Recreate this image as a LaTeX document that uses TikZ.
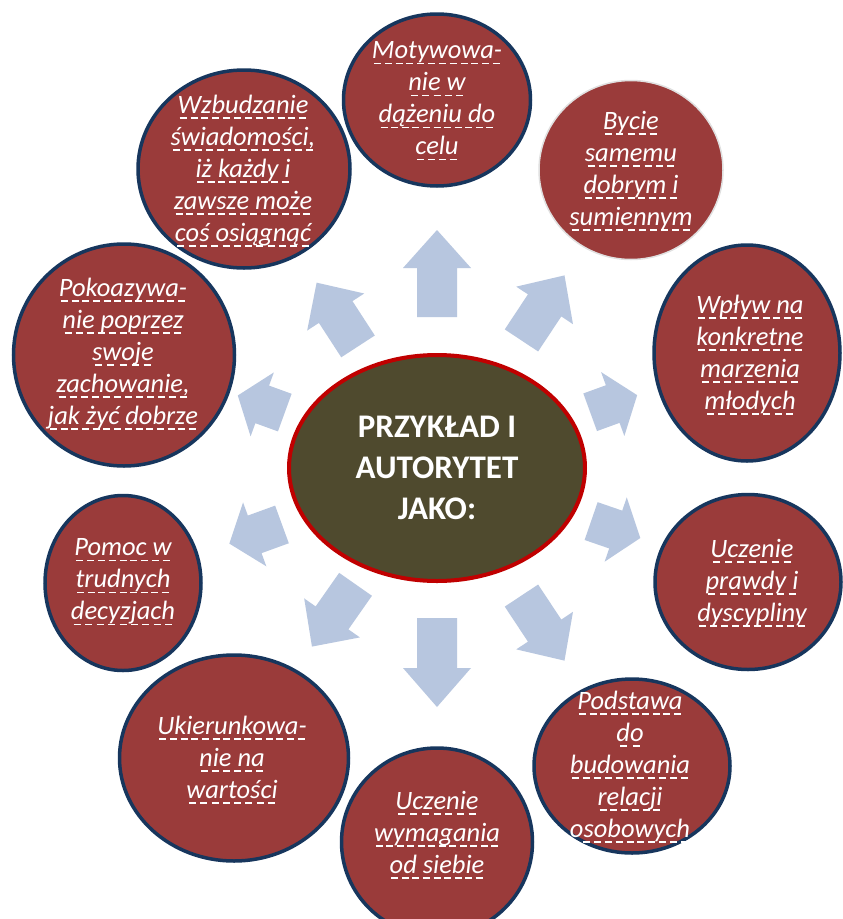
\documentclass[tikz,border=0pt]{standalone}
\usepackage{fontspec}
\setmainfont{Carlito}
\usetikzlibrary{shapes.geometric}
\definecolor{cfill}{HTML}{9A3B3A}
\definecolor{cline}{HTML}{17365D}
\definecolor{efill}{HTML}{4F4A2E}
\definecolor{eline}{HTML}{C00000}
\definecolor{arrc}{HTML}{B7C6DF}
\newcommand\dl[1]{\leavevmode\setbox0=\hbox{#1}\rlap{\raisebox{-5.5pt}{\hbox to \wd0{\xleaders\hbox to 10.5pt{\hss\rule{7pt}{1.5pt}\hss}\hfill}}}\box0}
\newcommand\barrow[4]{%
  \begin{scope}[shift={(437,468)},rotate=#1]
    \fill[arrc] (#2,-20) -- ({#2+#3-#4},-20) -- ({#2+#3-#4},-34) -- ({#2+#3},0)
      -- ({#2+#3-#4},34) -- ({#2+#3-#4},20) -- (#2,20) -- cycle;
  \end{scope}}
\tikzset{
  bub/.style={ellipse, fill=cfill, draw=cline, line width=3.5pt, inner sep=0pt},
  btxt/.style={text=white, align=center, inner sep=0pt,
    font=\fontsize{26.5}{32}\selectfont\itshape},
}
\begin{document}
\begin{tikzpicture}[x=1pt,y=-1pt]
\fill[white] (0,0) rectangle (843,919);
\clip (0,0) rectangle (843,919);

% bubbles
\node[bub, minimum width=187pt, minimum height=172pt] (c1) at (437,100) {};
\node[bub, minimum width=212pt, minimum height=198pt] (c2) at (244,169) {};
\node[ellipse, fill=cfill, draw=black!12, line width=1.5pt, inner sep=0pt,
      minimum width=184pt, minimum height=179pt] (c3) at (631,170) {};
\node[bub, minimum width=186pt, minimum height=216pt] (c4) at (747,353) {};
\node[bub, minimum width=186pt, minimum height=175pt] (c5) at (748,582) {};
\node[bub, minimum width=196pt, minimum height=174pt] (c6) at (632,766) {};
\node[bub, minimum width=191pt, minimum height=188pt] (c7) at (437,842) {};
\node[bub, minimum width=229pt, minimum height=206pt] (c8) at (234,758) {};
\node[bub, minimum width=156pt, minimum height=175pt] (c9) at (123,583) {};
\node[bub, minimum width=221pt, minimum height=222pt] (c10) at (124,355) {};

% texts
\node[btxt] (t1) at (437,101) {\dl{Motywowa-}\\\dl{nie w}\\\dl{dążeniu do}\\\dl{celu}};
\node[btxt] (t2) at (243,171) {\dl{Wzbudzanie}\\\dl{świadomości,}\\\dl{iż każdy i}\\\dl{zawsze może}\\\dl{coś osiągnąć}};
\node[btxt] (t3) at (631,171) {\dl{Bycie}\\\dl{samemu}\\\dl{dobrym i}\\\dl{sumiennym}};
\node[btxt] (t4) at (750,355) {\dl{Wpływ na}\\\dl{konkretne}\\\dl{marzenia}\\\dl{młodych}};
\node[btxt] (t5) at (752,583) {\dl{Uczenie}\\\dl{prawdy i}\\\dl{dyscypliny}};
\node[btxt] (t6) at (630,767) {\dl{Podstawa}\\\dl{do}\\\dl{budowania}\\\dl{relacji}\\\dl{osobowych}};
\node[btxt] (t7) at (437,835) {\dl{Uczenie}\\\dl{wymagania}\\\dl{od siebie}};
\node[btxt] (t8) at (232,760) {\dl{Ukierunkowa-}\\\dl{nie na}\\\dl{wartości}};
\node[btxt] (t9) at (123,582) {\dl{Pomoc w}\\\dl{trudnych}\\\dl{decyzjach}};
\node[btxt] (t10) at (123,354) {\dl{Pokoazywa-}\\\dl{nie poprzez}\\\dl{swoje}\\\dl{zachowanie,}\\\dl{jak żyć dobrze}};

% arrows
\barrow{90}{151}{87}{38}
\barrow{56.5}{153}{78}{36}
\barrow{20}{163}{50}{26}
\barrow{-19}{163}{52}{26}
\barrow{-56.5}{153}{78}{36}
\barrow{-90}{150}{89}{39}
\barrow{-125}{142}{76}{35}
\barrow{-160}{165}{56}{27}
\barrow{160}{162}{50}{26}
\barrow{123}{145}{76}{35}

% centre
\node[ellipse, fill=efill, draw=eline, line width=4pt, inner sep=0pt,
      minimum width=296pt, minimum height=226pt] (ctr) at (437,468) {};
\node[text=white, align=center, inner sep=0pt,
      font=\fontsize{33}{41}\selectfont\bfseries] (ctrt) at (437,468)
      {PRZYKŁAD I\\AUTORYTET\\JAKO:};
\end{tikzpicture}
\end{document}
